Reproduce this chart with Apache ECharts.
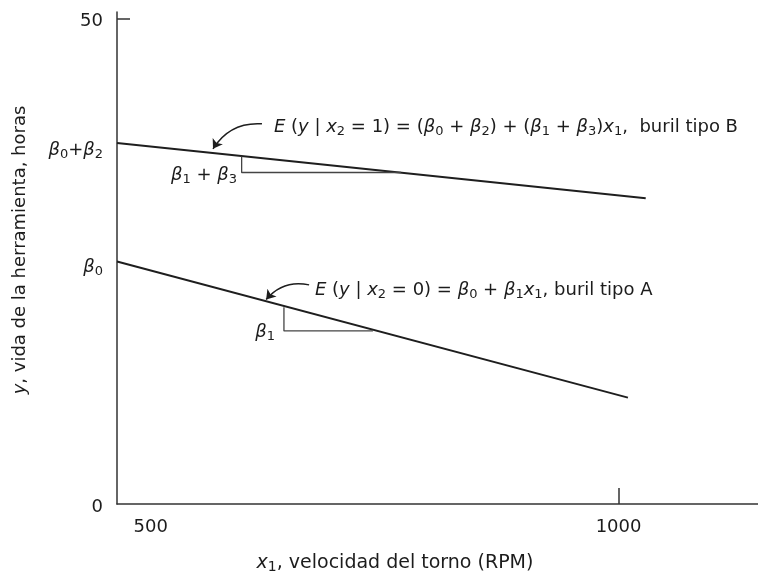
<!DOCTYPE html>
<html><head><meta charset="utf-8">
<script src="https://cdn.jsdelivr.net/npm/echarts@6/dist/echarts.min.js"></script>
<style>html,body{margin:0;padding:0;background:#fff}#c{width:758px;height:573px}</style>
</head><body><div id="c"></div>
<script>
// ---- data ----
const xRange = [464, 1149];
const yRange = [0, 50.7];
const xTickLabels = [500, 1000];
const xTicks = [1000];
const yTickLabels = [0, 50];
const yTicks = [50];
// regression lines (tool type A: x2 = 0, tool type B: x2 = 1)
const lineA = [[464, 24.98], [1010, 10.96]];
const lineB = [[464, 37.19], [1029, 31.5]];
// slope triangles
const triA = [[642.4, 20.28], [642.4, 17.84], [737.5, 17.84]];
const triB = [[597.2, 35.8], [597.2, 34.16], [767.4, 34.16]];
// pointer arrows [from, to]
const arrowA = [[669.3, 22.58], [623.4, 21.08]];
const arrowB = [[618.9, 39.18], [566.6, 36.6]];
// annotation anchors
const eqAPos = [675.5, 22.27];
const eqBPos = [631.7, 39.07];
const slopeAPos = [632.8, 17.94];
const slopeBPos = [592.2, 34.0];
const interceptA = [464, 24.98];
const interceptB = [464, 37.19];
// texts
const eqAText = '{i|E} ({i|y} | {i|x}{s|2} = 0) = {i|β}{s|0} + {i|β}{s|1}{i|x}{s|1}, buril tipo A';
const eqBText = '{i|E} ({i|y} | {i|x}{s|2} = 1) = ({i|β}{s|0} + {i|β}{s|2}) + ({i|β}{s|1} + {i|β}{s|3}){i|x}{s|1},  buril tipo B';
const slopeAText = '{i|β}{s|1}';
const slopeBText = '{i|β}{s|1} + {i|β}{s|3}';
const intAText = '{i|β}{s|0}';
const intBText = '{i|β}{s|0}+{i|β}{s|2}';
const xName = '{i|x}{s|1}, velocidad del torno (RPM)';
const yName = '{i|y}, vida de la herramienta, horas';

// ---- style ----
const FONT = 'DejaVu Sans';
const TXT = '#1c1c1c';
const AX = '#333333';
const LN = '#1e1e1e';
function mkRich(fs) {
  return {
    i: {fontFamily: FONT, fontSize: fs, fontStyle: 'italic', color: TXT, lineHeight: 22},
    s: {fontFamily: FONT, fontSize: Math.round(fs * 0.72), color: TXT, lineHeight: 10, verticalAlign: 'bottom'}
  };
}
function textStyle(fs) {
  return {fontFamily: FONT, fontSize: fs, color: TXT, lineHeight: 22, rich: mkRich(fs)};
}
const baseText = textStyle(18);

function ann(pos, text, position, extra) {
  return {
    value: pos,
    label: Object.assign({show: true, formatter: text, position: position, distance: 0, opacity: 1,
      textBorderWidth: 0}, baseText, extra || {})
  };
}

const chart = echarts.init(document.getElementById('c'), null, {renderer: 'canvas'});
chart.setOption({
  animation: false,
  backgroundColor: '#ffffff',
  grid: {left: 117, right: 0, top: 12, bottom: 69, containLabel: false, outerBoundsMode: 'none'},
  xAxis: {
    type: 'value', min: xRange[0], max: xRange[1],
    axisLine: {show: true, onZero: false, lineStyle: {color: AX, width: 1.5}},
    splitLine: {show: false},
    axisTick: {show: true, inside: true, length: 16, customValues: xTicks, lineStyle: {color: AX, width: 1.5}},
    axisLabel: {customValues: xTickLabels, margin: 14, fontFamily: FONT, fontSize: 18, color: TXT,
      formatter: function (v) { return String(v); }},
    name: xName, nameLocation: 'middle', nameGap: 48,
    nameTextStyle: Object.assign({padding: [0, 85, 0, 0]}, textStyle(19))
  },
  yAxis: {
    type: 'value', min: yRange[0], max: yRange[1],
    axisLine: {show: true, onZero: false, lineStyle: {color: AX, width: 1.5}},
    splitLine: {show: false},
    axisTick: {show: true, inside: true, length: 13, customValues: yTicks, lineStyle: {color: AX, width: 1.5}},
    axisLabel: {customValues: yTickLabels, margin: 14, fontFamily: FONT, fontSize: 18, color: TXT,
      verticalAlign: 'top', lineHeight: 6, formatter: function (v) { return String(v); }},
    name: yName, nameLocation: 'middle', nameGap: 86,
    nameTextStyle: Object.assign({padding: [0, 0, 0, 16]}, textStyle(18))
  },
  series: [
    {type: 'line', data: lineA, symbol: 'none', lineStyle: {color: LN, width: 2}},
    {type: 'line', data: lineB, symbol: 'none', lineStyle: {color: LN, width: 2}},
    {type: 'line', data: triA, symbol: 'none', lineStyle: {color: '#444444', width: 1.3}},
    {type: 'line', data: triB, symbol: 'none', lineStyle: {color: '#444444', width: 1.3}},
    {
      type: 'lines', coordinateSystem: 'cartesian2d',
      symbol: ['none', 'arrow'], symbolSize: 9,
      lineStyle: {color: LN, width: 1.5, curveness: -0.3, opacity: 1},
      data: [{coords: arrowA}, {coords: arrowB}]
    },
    {
      type: 'scatter', symbolSize: 0, itemStyle: {color: TXT, opacity: 1}, silent: true,
      clip: false,
      data: [
        ann(eqAPos, eqAText, 'right', {offset: [0, 2]}),
        ann(eqBPos, eqBText, 'right', {offset: [0, 2]}),
        ann(slopeAPos, slopeAText, 'left', {offset: [0, 2]}),
        ann(slopeBPos, slopeBText, 'left', {offset: [0, 1]}),
        ann(interceptA, intAText, 'left', {distance: 14, offset: [0, 6]}),
        ann(interceptB, intBText, 'left', {distance: 14, offset: [0, 7]})
      ]
    }
  ]
});
</script></body></html>
